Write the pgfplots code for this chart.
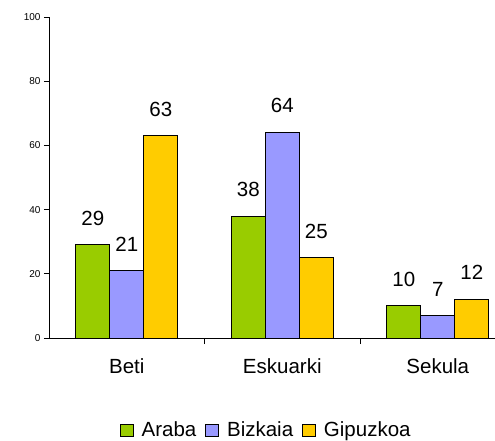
\documentclass[border=0pt]{standalone}
\usepackage{fontspec}
\setmainfont{Liberation Sans}
\usepackage{pgfplots}
\pgfplotsset{compat=1.18}
\definecolor{cgreen}{RGB}{153,204,0}
\definecolor{cblue}{RGB}{153,153,255}
\definecolor{cyellow}{RGB}{255,204,0}

\begin{document}
\begin{tikzpicture}
\begin{axis}[
    scale only axis,
    width=446pt, height=321pt,
    ybar=0pt,
    bar width=34pt,
    xmin=-0.5, xmax=2.368,
    ymin=0, ymax=100,
    axis lines*=left,
    axis line style={line width=0.8pt},
    ytick={0,20,40,60,80,100},
    xtick={0,1,2},
    xticklabels={Beti,Eskuarki,Sekula},
    tick align=outside,
    major tick length=5pt,
    tick style={black, line width=0.8pt},
    major x tick style={draw=none},
    extra x ticks={0.5,1.5,2.5},
    extra x tick labels={},
    extra x tick style={major x tick style={draw=black, line width=0.8pt}, major tick length=6pt},
    /pgf/number format/assume math mode=true,
    y tick label style={font=\fontsize{10}{12}\selectfont},
    x tick label style={font=\fontsize{20.5}{24}\selectfont, yshift=-12pt},
    nodes near coords,
    every node near coord/.append style={font=\fontsize{20.5}{24}\selectfont, inner sep=0pt, yshift=19pt, black},
    legend style={at={(0.487,-0.287)}, anchor=center, draw=none,
        font=\fontsize{20.5}{24}\selectfont,
        /tikz/every odd column/.append style={column sep=6pt},
        /tikz/every even column/.append style={column sep=7pt}},
    legend columns=-1,
    legend image code/.code={\draw[#1,draw=black,line width=0.8pt] (0pt,-6pt) rectangle (13pt,6pt);},
]
\addplot[fill=cgreen, draw=black, line width=1pt] coordinates {(0,29) (1,38) (2,10)};
\addplot[fill=cblue, draw=black, line width=1pt] coordinates {(0,21) (1,64) (2,7)};
\addplot[fill=cyellow, draw=black, line width=1pt] coordinates {(0,63) (1,25) (2,12)};
\legend{Araba,Bizkaia,Gipuzkoa}
\coordinate (sw) at (rel axis cs:0,0);
\coordinate (ne) at (rel axis cs:1,1);
\end{axis}
\pgfresetboundingbox
\path[use as bounding box] ([shift={(-49pt,-102pt)}]sw) rectangle ([shift={(0pt,17pt)}]ne);
\end{tikzpicture}
\end{document}
